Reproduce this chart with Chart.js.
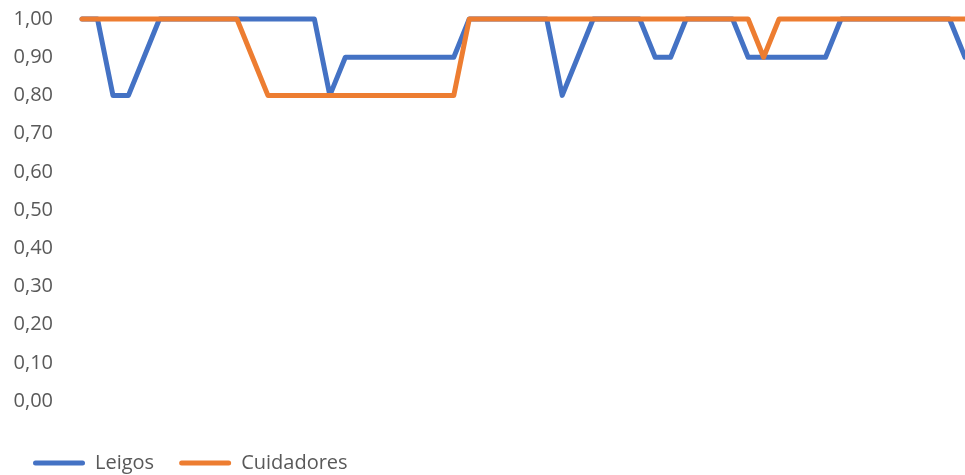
<!DOCTYPE html>
<html>
<head>
<meta charset="utf-8">
<script src="https://cdn.jsdelivr.net/npm/chart.js@4/dist/chart.umd.min.js"></script>
<style>
  html, body { margin: 0; padding: 0; background: #fff; overflow: hidden; }
  #wrap { width: 965px; height: 475px; }
</style>
</head>
<body>
<div id="wrap"><canvas id="lineChart"></canvas></div>
<script>
// categories (no visible labels on the x axis)
const categories = Array.from({ length: 58 }, (_, i) => String(i + 1));

const seriesNames = ['Leigos', 'Cuidadores'];

const leigos = [
  1, 1, 0.8, 0.8, 0.9,
  1, 1, 1, 1, 1, 1, 1, 1, 1, 1, 1,
  0.8,
  0.9, 0.9, 0.9, 0.9, 0.9, 0.9, 0.9, 0.9,
  1, 1, 1, 1, 1, 1,
  0.8, 0.9,
  1, 1, 1, 1,
  0.9, 0.9,
  1, 1, 1, 1,
  0.9, 0.9, 0.9, 0.9, 0.9, 0.9,
  1, 1, 1, 1, 1, 1, 1, 1,
  0.9
];

const cuidadores = [
  1, 1, 1, 1, 1, 1, 1, 1, 1, 1, 1,
  0.9,
  0.8, 0.8, 0.8, 0.8, 0.8, 0.8, 0.8, 0.8, 0.8, 0.8, 0.8, 0.8, 0.8,
  1, 1, 1, 1, 1, 1, 1, 1, 1, 1, 1, 1, 1, 1, 1, 1, 1, 1, 1,
  0.9,
  1, 1, 1, 1, 1, 1, 1, 1, 1, 1, 1, 1, 1
];

const yTicks = { min: 0, max: 1, step: 0.1 };

const textColor = '#595959';
const fontFamily = "'Open Sans', sans-serif";

const lineChartEl = document.getElementById('lineChart');
const lineChart = new Chart(lineChartEl, {
  type: 'line',
  data: {
    labels: categories,
    datasets: [
      {
        label: seriesNames[0],
        data: leigos,
        borderColor: '#4472C4',
        backgroundColor: '#4472C4',
        borderWidth: 5,
        pointRadius: 0,
        tension: 0,
        borderJoinStyle: 'round',
        borderCapStyle: 'round',
        clip: false,
        order: 1
      },
      {
        label: seriesNames[1],
        data: cuidadores,
        borderColor: '#ED7D31',
        backgroundColor: '#ED7D31',
        borderWidth: 5,
        pointRadius: 0,
        tension: 0,
        borderJoinStyle: 'round',
        borderCapStyle: 'round',
        clip: false,
        order: 0
      }
    ]
  },
  options: {
    responsive: true,
    maintainAspectRatio: false,
    animation: false,
    layout: {
      padding: { top: 19, left: 8, right: 0, bottom: 0 }
    },
    plugins: {
      tooltip: { enabled: false },
      legend: {
        position: 'bottom',
        align: 'start',
        maxHeight: 47,
        labels: {
          boxWidth: 52,
          boxHeight: 5,
          padding: 25,
          useBorderRadius: true,
          borderRadius: 2.5,
          color: textColor,
          font: { family: fontFamily, size: 20 },
          sort: (a, b) => a.datasetIndex - b.datasetIndex,
          generateLabels: (chart) =>
            Chart.defaults.plugins.legend.labels.generateLabels(chart)
              .map(l => ({ ...l, lineWidth: 0 }))
        }
      }
    },
    scales: {
      x: {
        grid: { display: false },
        border: { display: false },
        ticks: { display: false },
        afterFit: (scale) => { scale.height = 27; }
      },
      y: {
        min: yTicks.min,
        max: yTicks.max,
        // hidden tick marks, their length only spaces the labels from the plot
        grid: { display: false, drawTicks: true, tickLength: 29 },
        border: { display: false },
        ticks: {
          stepSize: yTicks.step,
          padding: 0,
          color: textColor,
          font: { family: fontFamily, size: 20 },
          callback: (value) => Number(value).toFixed(2).replace('.', ',')
        },
        afterFit: (scale) => { scale.width = 74; }
      }
    }
  }
});
</script>
</body>
</html>
